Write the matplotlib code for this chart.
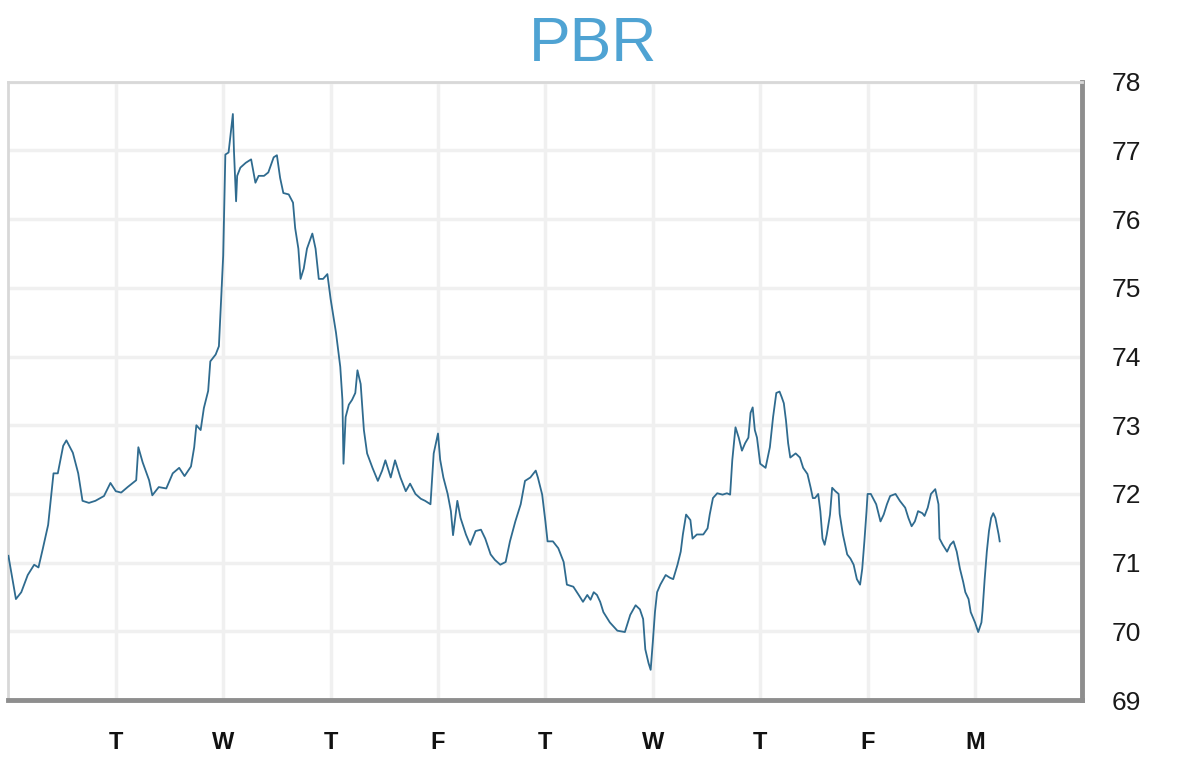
import matplotlib
matplotlib.use("Agg")
import matplotlib.pyplot as plt

# Posicion en dias (1 = primer T) y precio de PBR
dias = [
    0.00, 0.07, 0.12, 0.18, 0.24, 0.28, 0.32, 0.37, 0.40, 0.42, 0.46, 0.51, 0.54, 0.60, 0.65, 0.69,
    0.75, 0.81, 0.89, 0.95, 1.00, 1.05, 1.11, 1.19, 1.21, 1.25, 1.31, 1.34, 1.40, 1.47, 1.53, 1.59,
    1.64, 1.70, 1.73, 1.75, 1.79, 1.82, 1.86, 1.88, 1.93, 1.96, 2.00, 2.02, 2.05, 2.09, 2.10, 2.12,
    2.13, 2.16, 2.21, 2.26, 2.30, 2.33, 2.38, 2.42, 2.47, 2.50, 2.53, 2.56, 2.61, 2.65, 2.67, 2.70,
    2.72, 2.75, 2.78, 2.83, 2.86, 2.89, 2.93, 2.97, 3.00, 3.05, 3.07, 3.09, 3.11, 3.12, 3.14, 3.17,
    3.20, 3.23, 3.25, 3.28, 3.31, 3.34, 3.39, 3.44, 3.48, 3.51, 3.56, 3.60, 3.65, 3.70, 3.74, 3.79,
    3.84, 3.88, 3.93, 3.96, 4.00, 4.02, 4.05, 4.09, 4.12, 4.14, 4.18, 4.21, 4.26, 4.30, 4.35, 4.40,
    4.44, 4.49, 4.53, 4.58, 4.63, 4.67, 4.72, 4.77, 4.81, 4.86, 4.91, 4.93, 4.97, 5.00, 5.02, 5.07,
    5.12, 5.17, 5.20, 5.26, 5.31, 5.35, 5.39, 5.42, 5.45, 5.48, 5.51, 5.54, 5.60, 5.67, 5.74, 5.79,
    5.84, 5.88, 5.91, 5.93, 5.96, 5.98, 6.00, 6.02, 6.04, 6.07, 6.12, 6.16, 6.19, 6.23, 6.26, 6.28,
    6.31, 6.35, 6.37, 6.41, 6.47, 6.51, 6.53, 6.56, 6.60, 6.65, 6.69, 6.72, 6.74, 6.77, 6.80, 6.83,
    6.86, 6.89, 6.91, 6.93, 6.95, 6.97, 7.00, 7.05, 7.07, 7.09, 7.12, 7.15, 7.18, 7.20, 7.22, 7.24,
    7.26, 7.28, 7.33, 7.37, 7.40, 7.44, 7.47, 7.49, 7.51, 7.54, 7.56, 7.58, 7.60, 7.62, 7.65, 7.67,
    7.70, 7.73, 7.74, 7.77, 7.81, 7.84, 7.87, 7.90, 7.93, 7.95, 7.97, 7.99, 8.00, 8.03, 8.08, 8.12,
    8.15, 8.18, 8.21, 8.26, 8.30, 8.35, 8.38, 8.41, 8.44, 8.47, 8.51, 8.53, 8.56, 8.59, 8.63, 8.66,
    8.67, 8.70, 8.74, 8.77, 8.80, 8.83, 8.86, 8.89, 8.91, 8.94, 8.96, 9.00, 9.03, 9.06, 9.07, 9.09,
    9.11, 9.13, 9.15, 9.17, 9.19, 9.20, 9.22, 9.23,
]
precio = [
    71.10, 70.47, 70.57, 70.82, 70.97, 70.93, 71.20, 71.55, 72.00, 72.30, 72.30, 72.70, 72.78, 72.60, 72.30, 71.90,
    71.87, 71.90, 71.97, 72.16, 72.04, 72.02, 72.10, 72.20, 72.68, 72.46, 72.20, 71.98, 72.10, 72.08, 72.30, 72.38,
    72.26, 72.40, 72.68, 73.00, 72.93, 73.25, 73.50, 73.93, 74.03, 74.15, 75.47, 76.94, 76.97, 77.53, 77.00, 76.26,
    76.63, 76.75, 76.82, 76.87, 76.53, 76.63, 76.63, 76.68, 76.90, 76.93, 76.60, 76.38, 76.36, 76.24, 75.87, 75.57,
    75.13, 75.28, 75.57, 75.79, 75.57, 75.13, 75.13, 75.20, 74.84, 74.35, 74.10, 73.85, 73.37, 72.44, 73.12, 73.30,
    73.37, 73.47, 73.80, 73.60, 72.93, 72.59, 72.38, 72.19, 72.34, 72.49, 72.24, 72.49, 72.24, 72.04, 72.15, 72.00,
    71.93, 71.90, 71.85, 72.59, 72.88, 72.50, 72.24, 72.00, 71.75, 71.40, 71.90, 71.65, 71.41, 71.26, 71.46, 71.48,
    71.35, 71.12, 71.04, 70.97, 71.01, 71.31, 71.60, 71.85, 72.19, 72.24, 72.34, 72.24, 71.99, 71.60, 71.31, 71.31,
    71.21, 71.01, 70.68, 70.65, 70.53, 70.43, 70.53, 70.46, 70.57, 70.53, 70.43, 70.28, 70.13, 70.01, 69.99, 70.24,
    70.38, 70.32, 70.18, 69.74, 69.54, 69.44, 69.84, 70.28, 70.57, 70.68, 70.82, 70.78, 70.76, 70.97, 71.16, 71.41,
    71.70, 71.62, 71.35, 71.41, 71.41, 71.50, 71.70, 71.94, 72.01, 71.99, 72.01, 71.99, 72.49, 72.97, 72.82, 72.63,
    72.74, 72.82, 73.18, 73.26, 72.93, 72.82, 72.44, 72.38, 72.53, 72.68, 73.12, 73.47, 73.49, 73.41, 73.32, 73.07,
    72.74, 72.53, 72.59, 72.53, 72.38, 72.29, 72.09, 71.94, 71.94, 72.00, 71.75, 71.35, 71.26, 71.41, 71.70, 72.09,
    72.04, 72.00, 71.71, 71.41, 71.12, 71.06, 70.97, 70.76, 70.68, 70.91, 71.31, 71.75, 72.00, 72.00, 71.85, 71.60,
    71.70, 71.85, 71.97, 72.00, 71.90, 71.80, 71.65, 71.53, 71.60, 71.75, 71.72, 71.68, 71.80, 72.00, 72.07, 71.85,
    71.35, 71.26, 71.16, 71.26, 71.31, 71.16, 70.91, 70.72, 70.57, 70.47, 70.28, 70.13, 69.99, 70.13, 70.30, 70.76,
    71.16, 71.46, 71.65, 71.72, 71.65, 71.57, 71.41, 71.31,
]

dias_ticks = [1, 2, 3, 4, 5, 6, 7, 8, 9]
dias_labels = ["T", "W", "T", "F", "T", "W", "T", "F", "M"]
precio_ticks = [69, 70, 71, 72, 73, 74, 75, 76, 77, 78]

plt.rcParams['font.family'] = ['Liberation Sans', 'DejaVu Sans']

fig = plt.figure(figsize=(12, 7.71), dpi=100)
ax = fig.add_axes([0.007, 0.092, 0.895, 0.802])

ax.plot(dias, precio, color="#2f6b8f", linewidth=1.3, zorder=3)

ax.set_xlim(0, 10)
ax.set_ylim(69, 78)
ax.set_xticks(dias_ticks)
ax.set_xticklabels(dias_labels, fontsize=17, fontweight="bold", color="#111111")
ax.set_yticks(precio_ticks)
ax.set_yticklabels([str(v) for v in precio_ticks], fontsize=19, color="#1a1a1a")
ax.yaxis.tick_right()
ax.tick_params(axis="both", length=0)
ax.tick_params(axis="x", pad=22)
ax.tick_params(axis="y", pad=21)

ax.grid(True, color="#f0f0f0", linewidth=2.5, zorder=0)
ax.set_axisbelow(True)

# borde claro arriba/izquierda y sombra gris abajo/derecha
for lado in ["top", "left"]:
    ax.spines[lado].set_color("#d8d8d8")
    ax.spines[lado].set_linewidth(2)
for lado in ["bottom", "right"]:
    ax.spines[lado].set_color("#8e8e8e")
    ax.spines[lado].set_linewidth(3.5)

fig.text(0.494, 0.942, "PBR", ha="center", va="center", fontsize=45, color="#4fa3d3")

plt.savefig("out.png", dpi=100)
